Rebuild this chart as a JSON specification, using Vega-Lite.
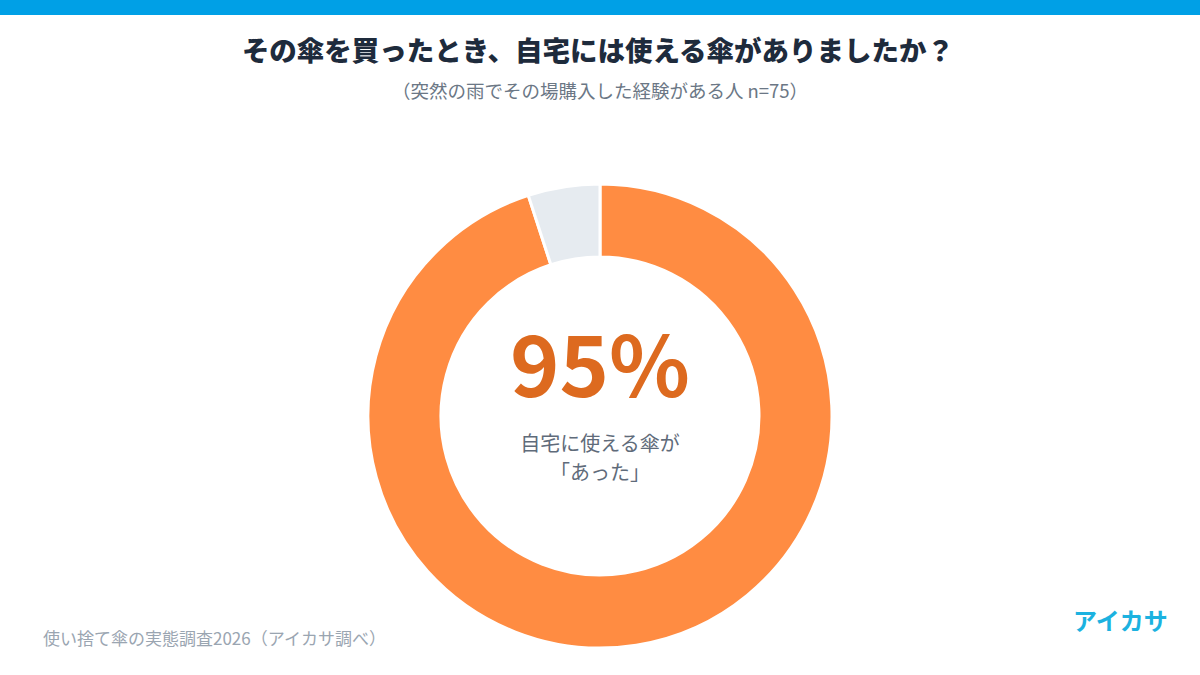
{
  "$schema": "https://vega.github.io/schema/vega-lite/v6.json",
  "width": 1200,
  "height": 472,
  "autosize": "none",
  "padding": {"top": 180, "left": 0, "right": 0, "bottom": 23},
  "background": "white",
  "config": {"view": {"stroke": null}, "font": "Noto Sans CJK JP"},
  "datasets": {
    "segments": [
      {"label": "あった", "value": 95, "order": 1},
      {"label": "なかった", "value": 5, "order": 2}
    ],
    "titles": [
      {"text": "その傘を買ったとき、自宅には使える傘がありましたか？"}
    ],
    "subtitles": [
      {"text": "（突然の雨でその場購入した経験がある人 n=75）"}
    ],
    "center": [
      {"text": "95%"}
    ],
    "caption": [
      {"line": "自宅に使える傘が", "row": 1},
      {"line": "「あった」", "row": 2}
    ],
    "footer": [
      {"text": "使い捨て傘の実態調査2026（アイカサ調べ）"}
    ],
    "logo": [
      {"text": "アイカサ"}
    ],
    "bar": [
      {"k": 1}
    ]
  },
  "layer": [
    {
      "data": {"name": "bar"},
      "mark": {"type": "rect", "color": "#00a0e6"},
      "encoding": {
        "x": {"value": 0},
        "x2": {"value": 1200},
        "y": {"value": -180},
        "y2": {"value": -165}
      }
    },
    {
      "data": {"name": "titles"},
      "mark": {"type": "text", "font": "Noto Sans CJK JP", "fontSize": 27.5, "fontWeight": 900, "color": "#1e2b3c", "align": "center", "baseline": "middle"},
      "encoding": {
        "text": {"field": "text", "type": "nominal"},
        "x": {"value": 598},
        "y": {"value": -127}
      }
    },
    {
      "data": {"name": "subtitles"},
      "mark": {"type": "text", "font": "Noto Sans CJK JP", "fontSize": 18.5, "color": "#6b7785", "align": "center", "baseline": "middle"},
      "encoding": {
        "text": {"field": "text", "type": "nominal"},
        "x": {"value": 600},
        "y": {"value": -88}
      }
    },
    {
      "data": {"name": "segments"},
      "mark": {"type": "arc", "outerRadius": 232, "innerRadius": 159, "stroke": "white", "strokeWidth": 3},
      "encoding": {
        "theta": {"field": "value", "type": "quantitative", "stack": true},
        "order": {"field": "order", "type": "quantitative"},
        "color": {
          "field": "label",
          "type": "nominal",
          "scale": {"domain": ["あった", "なかった"], "range": ["#ff8c42", "#e6ebf0"]},
          "legend": null
        }
      }
    },
    {
      "data": {"name": "center"},
      "mark": {"type": "text", "font": "Noto Sans CJK JP", "fontSize": 84, "fontWeight": "bold", "color": "#dd6a1f", "align": "center", "baseline": "middle"},
      "encoding": {
        "text": {"field": "text", "type": "nominal"},
        "x": {"value": 600},
        "y": {"value": 192}
      }
    },
    {
      "data": {"name": "caption"},
      "mark": {"type": "text", "font": "Noto Sans CJK JP", "fontSize": 20, "color": "#5f6b7a", "align": "center", "baseline": "middle", "dy": 265},
      "encoding": {
        "text": {"field": "line", "type": "nominal"},
        "x": {"value": 600},
        "y": {"field": "row", "type": "quantitative", "scale": {"domain": [0, 1], "range": [-29, 0]}, "axis": null}
      }
    },
    {
      "data": {"name": "footer"},
      "mark": {"type": "text", "font": "Noto Sans CJK JP", "fontSize": 17, "color": "#9aa5b1", "align": "left", "baseline": "middle"},
      "encoding": {
        "text": {"field": "text", "type": "nominal"},
        "x": {"value": 43},
        "y": {"value": 460}
      }
    },
    {
      "data": {"name": "logo"},
      "mark": {"type": "text", "font": "Noto Sans CJK JP", "fontSize": 24, "fontWeight": "bold", "color": "#1cb2e0", "align": "left", "baseline": "middle"},
      "encoding": {
        "text": {"field": "text", "type": "nominal"},
        "x": {"value": 1073},
        "y": {"value": 443}
      }
    }
  ]
}
